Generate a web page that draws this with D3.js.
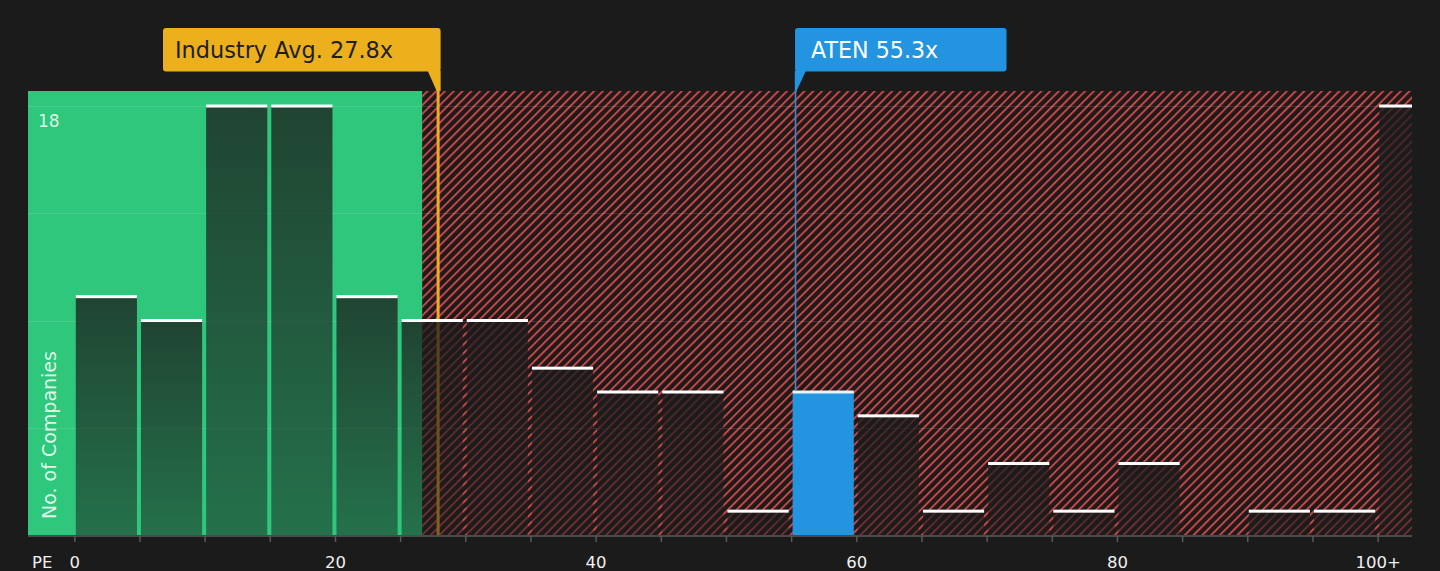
<!DOCTYPE html>
<html>
<head>
<meta charset="utf-8">
<script src="https://cdn.jsdelivr.net/npm/d3@7"></script>
<style>
  html, body { margin: 0; padding: 0; background: #1b1b1b; }
  svg { display: block; font-family: "DejaVu Sans", sans-serif; }
</style>
</head>
<body>
<svg id="chart" width="1440" height="571"></svg>
<script>
// ---- data ----
const binStarts = [0, 5, 10, 15, 20, 25, 30, 35, 40, 45, 50, 55, 60, 65, 70, 75, 80, 85, 90, 95, 100];
const binEnds   = [5, 10, 15, 20, 25, 30, 35, 40, 45, 50, 55, 60, 65, 70, 75, 80, 85, 90, 95, 100, 102.6];
const counts    = [10, 9, 18, 18, 10, 9, 9, 7, 6, 6, 1, 6, 5, 1, 3, 1, 3, 0, 1, 1, 18];
const tickValues = [0, 20, 40, 60, 80, 100];
const tickLabels = ["0", "20", "40", "60", "80", "100+"];
const binTicks = [0, 5, 10, 15, 20, 25, 30, 35, 40, 45, 50, 55, 60, 65, 70, 75, 80, 85, 90, 95, 100];
const gridValues = [4.5, 9, 13.5, 18];
const yLabelValue = 18;
const industryAvg = 27.8;
const industryLabel = "Industry Avg. 27.8x";
const companyPE = 55.3;
const companyLabel = "ATEN 55.3x";
const companyBin = 55;
const fairLimit = 26.65;
const xDomain = [-3.59, 102.6];
const yMax = 18.63;

// ---- layout ----
const svg = d3.select("#chart");
const L = 28, R = 1412, T = 91, B = 535;
const x = d3.scaleLinear().domain(xDomain).range([L, R]);
const y = d3.scaleLinear().domain([0, yMax]).range([B, T]);

const defs = svg.append("defs");
const pat = defs.append("pattern")
  .attr("id", "hatch").attr("patternUnits", "userSpaceOnUse")
  .attr("width", 6.2).attr("height", 6.2)
  .attr("patternTransform", "rotate(45)");
pat.append("rect").attr("width", 6.2).attr("height", 6.2).attr("fill", "#1f1a1a");
pat.append("rect").attr("x", 0).attr("y", 0).attr("width", 1.9).attr("height", 6.2).attr("fill", "#c8484a");

const grad = defs.append("linearGradient").attr("id", "barGrad")
  .attr("x1", 0).attr("y1", 0).attr("x2", 0).attr("y2", 1);
grad.append("stop").attr("offset", "0%").attr("stop-color", "#1b1b1b").attr("stop-opacity", 0.76);
grad.append("stop").attr("offset", "100%").attr("stop-color", "#1b1b1b").attr("stop-opacity", 0.5);

// background regions
svg.append("rect").attr("x", x(fairLimit)).attr("y", T)
  .attr("width", R - x(fairLimit)).attr("height", B - T).attr("fill", "url(#hatch)");
svg.append("rect").attr("x", L).attr("y", T)
  .attr("width", x(fairLimit) - L).attr("height", B - T).attr("fill", "#2ec77c");

// gridlines
svg.append("g").selectAll("line").data(gridValues).join("line")
  .attr("x1", L).attr("x2", R)
  .attr("y1", d => Math.round(y(d)) + 0.5).attr("y2", d => Math.round(y(d)) + 0.5)
  .attr("stroke", "#ffffff").attr("stroke-opacity", 0.12).attr("stroke-width", 1);

// industry avg line (under bars)
svg.append("line")
  .attr("x1", x(industryAvg) + 1).attr("x2", x(industryAvg) + 1)
  .attr("y1", 71).attr("y2", B)
  .attr("stroke", "#f2aa22").attr("stroke-width", 3);

// bars
const bars = binStarts.map((s, i) => ({ s, e: binEnds[i], v: counts[i] }));
const barG = svg.append("g");
bars.forEach(d => {
  if (d.v <= 0) return;
  const x0 = x(d.s) + 1;
  const x1 = d.s === 100 ? x(d.e) : x(d.e) - 3;
  const isCo = d.s === companyBin;
  barG.append("rect")
    .attr("x", x0).attr("y", y(d.v))
    .attr("width", x1 - x0).attr("height", B - y(d.v))
    .attr("fill", isCo ? "#2394e0" : "url(#barGrad)");
  barG.append("rect")
    .attr("x", x0).attr("y", y(d.v) - 1.5)
    .attr("width", x1 - x0).attr("height", 3)
    .attr("fill", isCo ? "#e8f2fa" : "#ffffff");
});

// company line
const coBar = bars.find(d => d.s === companyBin);
svg.append("line")
  .attr("x1", x(companyPE)).attr("x2", x(companyPE))
  .attr("y1", 71).attr("y2", y(coBar.v) - 1.5)
  .attr("stroke", "#2a90d8").attr("stroke-width", 1.5);

// axis
const axisG = svg.append("g").attr("transform", `translate(0,${B})`);
axisG.append("line").attr("x1", L).attr("x2", R).attr("y1", 1).attr("y2", 1)
  .attr("stroke", "#4a4a4a").attr("stroke-width", 2);
axisG.selectAll("line.tk").data(binTicks).join("line").attr("class", "tk")
  .attr("x1", d => x(d)).attr("x2", d => x(d)).attr("y1", 1).attr("y2", 7)
  .attr("stroke", "#5a5a5a").attr("stroke-width", 1.5);
axisG.selectAll("text").data(tickValues).join("text")
  .attr("x", d => x(d)).attr("y", 33)
  .attr("text-anchor", "middle").attr("fill", "#f0f0f0")
  .attr("font-size", 16.5)
  .text((d, i) => tickLabels[i]);
svg.append("text").attr("x", 32).attr("y", B + 33).attr("fill", "#f0f0f0")
  .attr("font-size", 16.5).text("PE");

// y labels
svg.append("text").attr("x", 38).attr("y", y(yLabelValue) + 21)
  .attr("fill", "#ffffff").attr("fill-opacity", 0.85).attr("font-size", 17)
  .text(String(yLabelValue));
svg.append("text")
  .attr("transform", `translate(56,${B - 16}) rotate(-90)`)
  .attr("fill", "#ffffff").attr("fill-opacity", 0.85).attr("font-size", 19)
  .text("No. of Companies");

// industry label box
const ax = x(industryAvg) + 1;
const boxTop = 28, boxBot = 71.5;
const ibx0 = 163, ibx1 = ax + 2.5;
const ind = svg.append("g");
ind.append("rect").attr("x", ibx0).attr("y", boxTop).attr("width", ibx1 - ibx0)
  .attr("height", boxBot - boxTop).attr("rx", 3).attr("fill", "#ecb01c");
ind.append("path")
  .attr("d", `M${ibx1 - 13},${boxBot - 1} L${ibx1},${boxBot - 1} L${ibx1},${T} L${ax - 1.5},${T} Z`)
  .attr("fill", "#ecb01c");
ind.append("text").attr("x", ibx0 + 12).attr("y", 58).attr("font-size", 22.4)
  .attr("fill", "#1e1e1e").text(industryLabel);

// company label box
const cx = x(companyPE);
const cbx0 = cx - 0.5, cbx1 = 1006.5;
const co = svg.append("g");
co.append("rect").attr("x", cbx0).attr("y", boxTop).attr("width", cbx1 - cbx0)
  .attr("height", boxBot - boxTop).attr("rx", 3).attr("fill", "#2394e0");
co.append("path")
  .attr("d", `M${cbx0},${boxBot - 1} L${cbx0 + 11},${boxBot - 1} L${cbx0 + 1.5},${T} L${cbx0},${T} Z`)
  .attr("fill", "#2394e0");
co.append("text").attr("x", cbx0 + 16).attr("y", 58).attr("font-size", 22.2)
  .attr("fill", "#ffffff").text(companyLabel);
</script>
</body>
</html>
